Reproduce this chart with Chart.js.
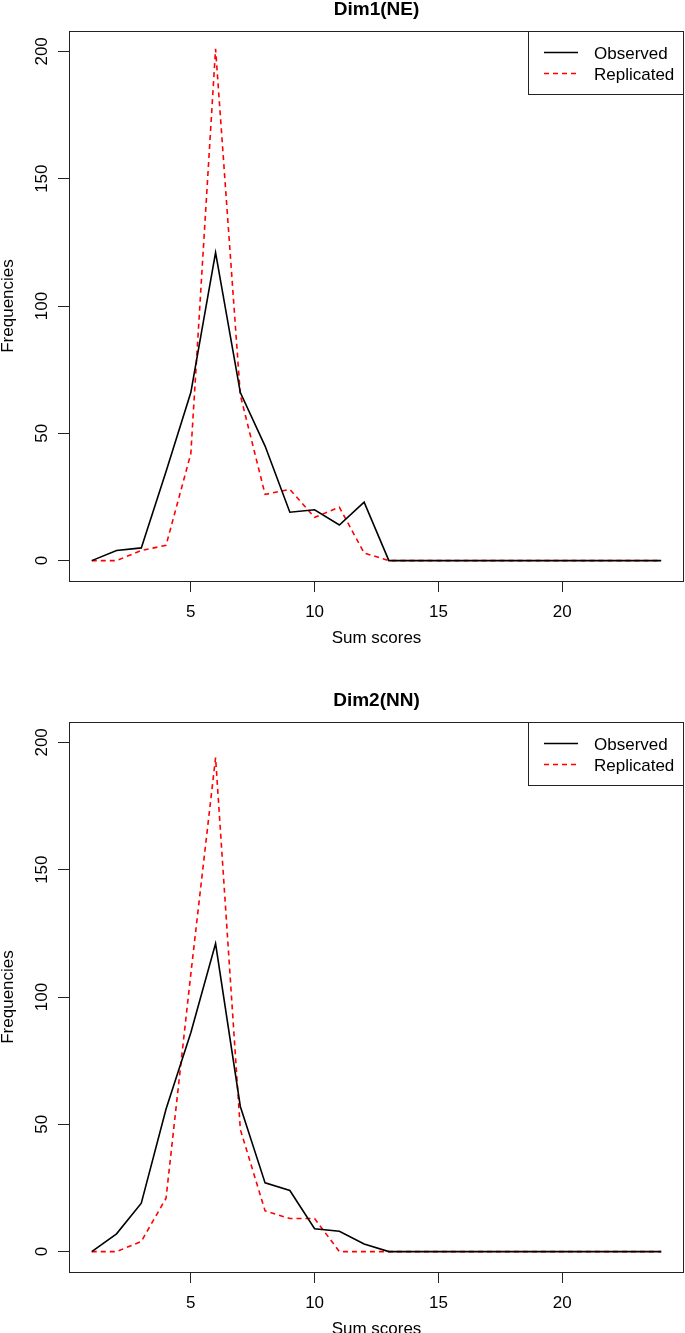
<!DOCTYPE html>
<html>
<head>
<meta charset="utf-8">
<script src="https://cdn.jsdelivr.net/npm/chart.js@4/dist/chart.umd.min.js"></script>
<style>
  html, body { margin: 0; padding: 0; background: #fff; }
  #wrap { position: relative; width: 685px; height: 1333px; overflow: hidden; background: #fff; }
  canvas { position: absolute; left: 0; }
</style>
</head>
<body>
<div id="wrap">
  <canvas id="c1" width="685" height="691" style="top:0px"></canvas>
  <canvas id="c2" width="685" height="691" style="top:691px"></canvas>
</div>
<script>
// ---- data ----
const sumScores = [1,2,3,4,5,6,7,8,9,10,11,12,13,14,15,16,17,18,19,20,21,22,23,24];
const dim1Observed   = [0,4,5,35,66,121,66,45,19,20,14,23,0,0,0,0,0,0,0,0,0,0,0,0];
const dim1Replicated = [0,0,4,6,42,201,65,26,28,17,21,3,0,0,0,0,0,0,0,0,0,0,0,0];
const dim2Observed   = [0,7,19,56,86,121,57,27,24,9,8,3,0,0,0,0,0,0,0,0,0,0,0,0];
const dim2Replicated = [0,0,4,21,109,194,48,16,13,13,0,0,0,0,0,0,0,0,0,0,0,0,0,0];
const xTicks = [5,10,15,20];
const yTicks = [0,50,100,150,200];
const titles = ["Dim1(NE)", "Dim2(NN)"];
const seriesNames = ["Observed", "Replicated"];
const xTitle = "Sum scores";
const yTitle = "Frequencies";

const FONT = '"Liberation Sans", Arial, Helvetica, sans-serif';

function pts(ys) { return sumScores.map((x, i) => ({x: x, y: ys[i]})); }

const decorPlugin = {
  id: 'decor',
  afterDraw(chart) {
    const ctx = chart.ctx;
    const a = chart.chartArea;
    const xs = chart.scales.x, ys = chart.scales.y;
    ctx.save();
    // box
    ctx.strokeStyle = '#222';
    ctx.lineWidth = 1;
    ctx.strokeRect(Math.round(a.left) + 0.5, Math.round(a.top) + 0.5,
                   Math.round(a.right - a.left) - 1, Math.round(a.bottom - a.top));
    ctx.fillStyle = '#000';
    // y tick labels (rotated, R style)
    ctx.font = '17px ' + FONT;
    ctx.textAlign = 'center';
    ctx.textBaseline = 'alphabetic';
    ys.ticks.forEach(t => {
      const p = ys.getPixelForValue(t.value);
      ctx.save();
      ctx.translate(47, p);
      ctx.rotate(-Math.PI / 2);
      ctx.fillText(String(t.value), 0, 0);
      ctx.restore();
    });
    // x tick labels
    xs.ticks.forEach(t => {
      const p = xs.getPixelForValue(t.value);
      ctx.fillText(String(t.value), p, 617);
    });
    const cx = (a.left + a.right) / 2;
    // axis titles
    ctx.fillText(xTitle, cx, 643);
    ctx.save();
    ctx.translate(13, (a.top + a.bottom) / 2);
    ctx.rotate(-Math.PI / 2);
    ctx.fillText(yTitle, 0, 0);
    ctx.restore();
    // main title
    ctx.font = 'bold 19px ' + FONT;
    ctx.fillText(chart.options.plugins.decor.title, cx, 15);
    // legend
    const lx = 528.5, ly = Math.round(a.top) + 0.5, lw = Math.round(a.right) - 528 - 1, lh = 63;
    ctx.strokeStyle = '#222';
    ctx.lineWidth = 1;
    ctx.strokeRect(lx, ly, lw, lh);
    const ds = chart.data.datasets;
    const rows = [52.5, 73.5];
    ctx.font = '17px ' + FONT;
    ctx.textAlign = 'left';
    ds.forEach((d, i) => {
      ctx.save();
      ctx.strokeStyle = d.borderColor;
      ctx.lineWidth = d.borderWidth;
      ctx.setLineDash(d.borderDash || []);
      ctx.beginPath();
      ctx.moveTo(544, rows[i]);
      ctx.lineTo(578, rows[i]);
      ctx.stroke();
      ctx.restore();
      ctx.fillStyle = '#000';
      ctx.fillText(d.label, 594, rows[i] + 6.5);
    });
    ctx.restore();
  }
};

function makeChart(id, title, obs, rep) {
  return new Chart(document.getElementById(id), {
    type: 'line',
    data: {
      datasets: [
        { label: seriesNames[0], data: pts(obs), borderColor: '#000000', borderWidth: 1.6,
          pointRadius: 0, tension: 0, fill: false },
        { label: seriesNames[1], data: pts(rep), borderColor: '#ff0000', borderWidth: 1.6,
          borderDash: [5, 4], pointRadius: 0, tension: 0, fill: false }
      ]
    },
    options: {
      responsive: false,
      animation: false,
      devicePixelRatio: 1,
      layout: { padding: { top: 31, right: 1, left: 0, bottom: 0 } },
      plugins: {
        legend: { display: false },
        tooltip: { enabled: false },
        title: { display: false },
        decor: { title: title }
      },
      scales: {
        x: {
          type: 'linear', min: 0.08, max: 24.92,
          afterBuildTicks: s => { s.ticks = xTicks.map(v => ({ value: v })); },
          afterFit: s => { s.height = 110; },
          ticks: { display: false },
          grid: { drawOnChartArea: false, drawTicks: true, tickLength: 11, color: '#222', lineWidth: 1 },
          border: { display: false }
        },
        y: {
          type: 'linear', min: -8, max: 208,
          afterBuildTicks: s => { s.ticks = yTicks.map(v => ({ value: v })); },
          afterFit: s => { s.width = 69; },
          ticks: { display: false },
          grid: { drawOnChartArea: false, drawTicks: true, tickLength: 11, color: '#222', lineWidth: 1 },
          border: { display: false }
        }
      }
    },
    plugins: [decorPlugin]
  });
}

makeChart('c1', titles[0], dim1Observed, dim1Replicated);
makeChart('c2', titles[1], dim2Observed, dim2Replicated);
</script>
</body>
</html>
